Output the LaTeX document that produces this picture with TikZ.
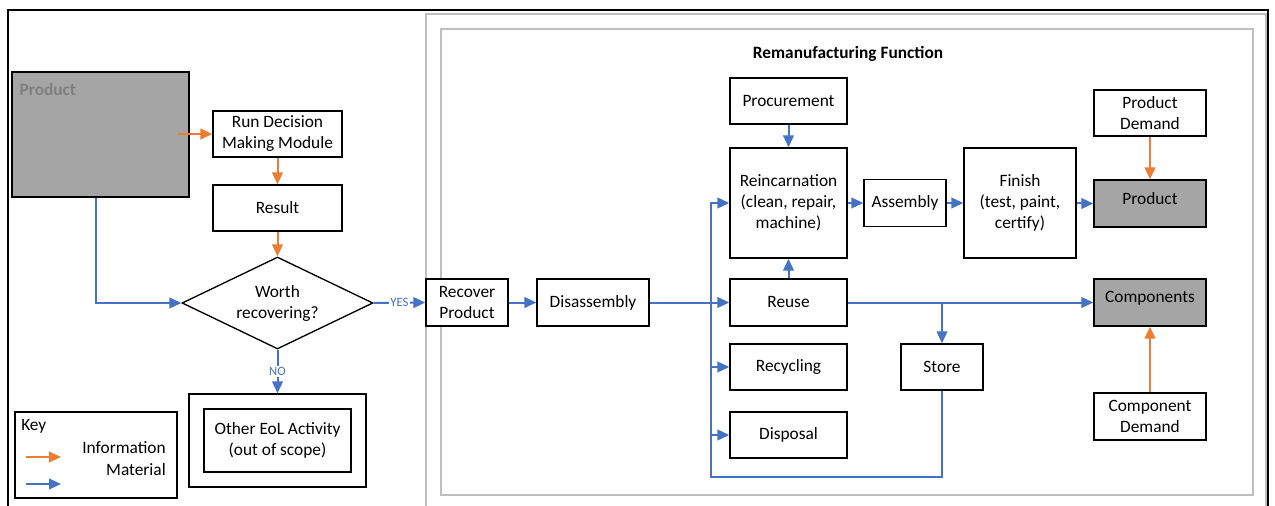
\documentclass[tikz,border=0pt]{standalone}
\usepackage{fontspec}
\setmainfont{Carlito}
\usetikzlibrary{arrows.meta,shapes.geometric}
\definecolor{infoC}{HTML}{ED7D31}
\definecolor{matC}{HTML}{4472C4}
\definecolor{boxG}{HTML}{A5A5A5}
\definecolor{frameG}{HTML}{BFBFBF}
\definecolor{txtG}{HTML}{7F7F7F}
\begin{document}
\begin{tikzpicture}[x=0.75pt,y=-0.75pt,
  wh/.style 2 args={minimum width=#1*0.75pt,minimum height=#2*0.75pt},
  txt/.style={font=\fontsize{13}{15.75}\selectfont},
  box/.style={draw=black,line width=1pt,fill=white,inner sep=0pt,align=center,txt},
  grey box/.style={box,fill=boxG},
  info/.style={draw=infoC,line width=1.5pt,-{Triangle[length=9pt,width=8pt]}},
  mat/.style={draw=matC,line width=1.5pt,-{Triangle[length=9pt,width=8pt]}},
  tag/.style={fill=white,inner sep=1pt,text=matC,font=\fontsize{9.5}{11}\selectfont},
  frame/.style={draw=frameG,line width=1.5pt}]

\useasboundingbox (0,0) rectangle (1275,506);

% outer frames
\draw[line width=1pt] (8,506) -- (8,10) -- (1268,10) -- (1268,506);
\draw[frame] (426,506) -- (426,14) -- (1266,14) -- (1266,506);
\draw[frame] (441,29) rectangle (1253,495);
\node[font=\bfseries\fontsize{13}{15.75}\selectfont] (title) at (848,54) {Remanufacturing Function};

% decision part
\node[grey box,wh={177}{125},
  label={[anchor=north west,inner sep=0pt,xshift=6pt,yshift=-9pt,text=txtG,font=\bfseries\fontsize{13}{15.75}\selectfont]north west:Product}]
  (prodL) at (100.5,134.5) {};
\node[box,wh={129}{46}] (rdm) at (277.5,134) {Run Decision\\Making Module};
\node[box,wh={129}{46}] (res) at (277.5,208) {Result};
\node[box,shape=diamond,inner sep=0pt,aspect=2.08,wh={191}{92}] (worth) at (277.5,303) {Worth\\recovering?};
\node[box,wh={177}{93}] (eolO) at (277.5,440.5) {};
\node[box,wh={147}{63}] (eolI) at (277.5,440.5) {Other EoL Activity\\(out of scope)};

% key
\node[box,wh={162}{86}] (key) at (96,455) {};
\node[txt,anchor=west,inner sep=0pt] (keyT) at (21,426) {Key};
\node[txt,anchor=east,inner sep=0pt] (keyI) at (166,448) {Information};
\node[txt,anchor=east,inner sep=0pt] (keyM) at (166,470) {Material};
\coordinate (ki1) at (26,457); \coordinate (ki2) at (61,457);
\coordinate (km1) at (26,484); \coordinate (km2) at (61,484);
\draw[info] (ki1) -- (ki2);
\draw[mat] (km1) -- (km2);

% remanufacturing nodes
\node[box,wh={82}{47}] (rec) at (467,302.5) {Recover\\Product};
\node[box,wh={112}{47}] (dis) at (593,302.5) {Disassembly};
\node[box,wh={117}{46}] (proc) at (788.5,101) {Procurement};
\node[box,wh={117}{110}] (reinc) at (788.5,203) {Reincarnation\\(clean, repair,\\machine)};
\node[box,wh={117}{47}] (reuse) at (788.5,302.5) {Reuse};
\node[box,wh={117}{46}] (recyc) at (788.5,367) {Recycling};
\node[box,wh={117}{46}] (disp) at (788.5,435) {Disposal};
\node[box,wh={82}{46}] (store) at (942,367) {Store};
\node[box,wh={82}{47}] (asm) at (905,203) {Assembly};
\node[box,wh={112}{110}] (fin) at (1020,203) {Finish\\(test, paint,\\certify)};
\node[grey box,wh={112}{47},label={[txt,yshift=3.5pt]center:Product}] (prodR) at (1150,203.5) {};
\node[box,wh={112}{46}] (pdem) at (1150,113) {Product\\Demand};
\node[grey box,wh={112}{47},label={[txt,yshift=3.5pt]center:Components}] (comp) at (1150,302.5) {};
\node[box,wh={112}{47}] (cdem) at (1150,416.5) {Component\\Demand};

% information flow
\coordinate (infoS) at (178,134);
\draw[info] (infoS) -- (rdm.west);
\draw[info] (rdm.south) -- (res.north);
\draw[info] (res.south) -- (worth.north);
\draw[info] (pdem.south) -- (prodR.north);
\draw[info] (cdem.north) -- (comp.south);

% material flow
\draw[mat] ([xshift=-3.4pt]prodL.south) |- (worth.west);
\draw[mat] (worth.east) -- node[tag] {YES} (rec.west);
\draw[mat] (worth.south) -- node[tag] {NO} (eolO.north);
\draw[mat] (rec.east) -- (dis.west);
\draw[mat] (dis.east) -- (reuse.west);
\coordinate (busB) at (711,477);
\draw[mat] (store.south) |- (busB) |- (reinc.west);
\draw[mat] (recyc.west -| busB) -- (recyc.west);
\draw[mat] (disp.west -| busB) -- (disp.west);
\draw[mat] (proc.south) -- (reinc.north);
\draw[mat] (reuse.north) -- (reinc.south);
\draw[mat] (reinc.east |- asm.west) -- (asm.west);
\draw[mat] (asm.east) -- (fin.west |- asm.east);
\draw[mat] (fin.east |- prodR.west) -- (prodR.west);
\draw[mat] (reuse.east) -- (comp.west);
\draw[mat] (store.north |- reuse.east) -- (store.north);
\end{tikzpicture}
\end{document}
